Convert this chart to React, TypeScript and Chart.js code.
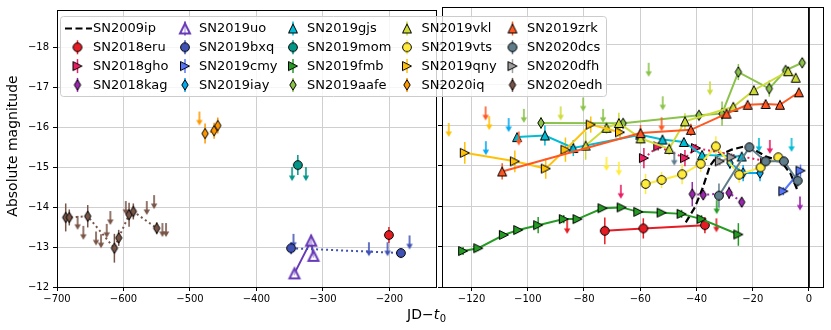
import React, { useEffect, useRef } from "react";
import { Chart, registerables } from "chart.js";
Chart.register(...registerables);

// ---------------- data ----------------
// detections: [JD - t0 (days), absolute magnitude, 1-sigma error]
// upper limits: [JD - t0 (days), limiting absolute magnitude]
const SN2009ip_x = [-43.8, -40.5, -37.8, -35.2, -32.5, -27.5, -23.0, -19.0, -15.0, -10.0, -6.5, -4.0];
const SN2009ip_y = [-13.6, -13.98, -14.45, -15.0, -15.25, -15.4, -15.48, -15.38, -15.22, -15.12, -14.8, -14.38];

const SN2018eru_det = [[-200.8, -13.3, 0.2], [-72.6, -13.39, 0.33], [-58.9, -13.45, 0.25], [-37.0, -13.53, 0.2]];
const SN2018eru_lim = [[-86.0, -13.66], [-32.9, -13.7]];
const SN2018gho_det = [[-58.7, -15.19, 0.25], [-53.6, -15.48, 0.1], [-44.1, -15.19, 0.2], [-40.2, -15.44, 0.1], [-15.6, -15.12, 0.1]];
const SN2018gho_lim = [[-66.9, -14.53], [-13.9, -15.64]];
const SN2018kag_det = [[-41.5, -14.3, 0.3], [-37.6, -14.28, 0.1], [-28.4, -14.33, 0.15], [-23.9, -14.1, 0.1]];
const SN2018kag_lim = [[-3.2, -14.24]];
const SN2019uo_det = [[-342.9, -12.34, 0.05], [-317.8, -13.16, 0.15], [-314.3, -12.78, 0.05]];
const SN2019uo_lim: number[][] = [];
const SN2019bxq_det = [[-347.9, -12.97, 0.15], [-182.8, -12.85, 0.12]];
const SN2019bxq_lim = [[-344.4, -13.33], [-230.9, -13.12], [-202.9, -13.12], [-169.8, -13.29]];
const SN2019cmy_det = [[-9.1, -14.37, 0.1], [-3.0, -14.88, 0.15]];
const SN2019cmy_lim: number[][] = [];
const SN2019iay_det = [[-28.1, -15.07, 0.15], [-23.4, -14.82, 0.2], [-17.4, -14.82, 0.2]];
const SN2019iay_lim = [[-114.9, -15.61], [-106.8, -16.18]];
const SN2019gjs_det = [[-103.8, -15.71, 0.1], [-93.9, -15.75, 0.25], [-83.8, -15.44, 0.2], [-60.0, -15.77, 0.1], [-52.1, -15.65, 0.1], [-44.5, -15.59, 0.1], [-38.0, -15.27, 0.1], [-23.9, -15.23, 0.1]];
const SN2019gjs_lim = [[-17.8, -15.69], [-6.2, -15.69]];
const SN2019mom_det = [[-337.8, -15.05, 0.25]];
const SN2019mom_lim = [[-346.4, -15.0], [-325.7, -15.0]];
const SN2019fmb_det = [[-123.0, -12.89, 0.1], [-117.6, -12.96, 0.05], [-108.5, -13.29, 0.05], [-103.4, -13.41, 0.05], [-96.3, -13.53, 0.2], [-87.2, -13.68, 0.1], [-82.3, -13.68, 0.05], [-73.4, -13.95, 0.05], [-66.6, -13.97, 0.05], [-60.7, -13.86, 0.05], [-52.4, -13.84, 0.05], [-45.3, -13.81, 0.1], [-38.2, -13.68, 0.1], [-25.1, -13.3, 0.28]];
const SN2019fmb_lim = [[-32.8, -14.15]];
const SN2019aafe_det = [[-95.3, -16.06, 0.15], [-66.1, -16.05, 0.1], [-39.1, -16.25, 0.1], [-30.9, -16.29, 0.3], [-25.1, -17.32, 0.2], [-14.1, -16.91, 0.2], [-8.3, -17.36, 0.1], [-2.4, -17.55, 0.1]];
const SN2019aafe_lim = [[-101.4, -16.41], [-80.3, -16.69], [-73.2, -16.41], [-57.0, -17.55], [-52.0, -16.72]];
const SN2019vkl_det = [[-79.4, -15.5, 0.35], [-72.0, -15.94, 0.15], [-67.6, -16.06, 0.25], [-59.9, -15.68, 0.15], [-49.7, -15.42, 0.15], [-44.1, -16.1, 0.2], [-26.9, -16.46, 0.1], [-19.6, -16.87, 0.1], [-7.4, -17.34, 0.1], [-4.7, -17.18, 0.1]];
const SN2019vkl_lim = [[-88.3, -16.47], [-35.2, -17.09]];
const SN2019vts_det = [[-58.1, -14.55, 0.25], [-52.4, -14.65, 0.2], [-45.1, -14.79, 0.25], [-38.5, -15.05, 0.2], [-33.1, -15.48, 0.25], [-24.8, -14.78, 0.2], [-17.2, -14.96, 0.15], [-10.9, -15.21, 0.1]];
const SN2019vts_lim = [[-72.0, -15.22], [-67.6, -15.1]];
const SN2019qny_det = [[-122.4, -15.32, 0.27], [-104.6, -15.11, 0.27], [-93.6, -14.93, 0.25], [-86.6, -15.4, 0.3], [-77.6, -16.02, 0.2], [-67.2, -15.83, 0.15]];
const SN2019qny_lim = [[-128.1, -16.06], [-113.7, -16.23]];
const SN2020iq_det = [[-477.3, -15.84, 0.25], [-463.7, -15.91, 0.2], [-458.2, -16.04, 0.2]];
const SN2020iq_lim = [[-485.8, -16.39]];
const SN2019zrk_det = [[-109.1, -14.86, 0.2], [-59.9, -15.81, 0.2], [-42.0, -15.89, 0.15], [-29.3, -16.29, 0.1], [-21.8, -16.51, 0.05], [-15.4, -16.53, 0.05], [-10.3, -16.51, 0.05], [-3.6, -16.82, 0.05]];
const SN2019zrk_lim = [[-115.0, -16.47], [-103.2, -15.85], [-52.4, -16.2]];
const SN2020dcs_det = [[-32.0, -14.26, 0.3], [-21.2, -15.46, 0.1], [-15.4, -15.11, 0.1], [-8.9, -15.11, 0.1], [-4.0, -14.63, 0.15]];
const SN2020dcs_lim = [[-47.9, -15.35]];
const SN2020dfh_det = [[-31.7, -15.11, 0.1], [-27.5, -15.21, 0.1]];
const SN2020dfh_lim: number[][] = [];
const SN2020edh_det = [[-686.9, -13.74, 0.35], [-681.5, -13.74, 0.2], [-653.8, -13.77, 0.28], [-613.7, -12.97, 0.36], [-607.2, -13.23, 0.2], [-591.6, -13.81, 0.3], [-585.2, -13.89, 0.2], [-550.0, -13.47, 0.15]];
const SN2020edh_lim = [[-669.0, -13.78], [-660.4, -13.53], [-641.3, -13.39], [-633.8, -13.32], [-625.2, -13.58], [-619.8, -13.9], [-596.6, -14.15], [-565.0, -14.15], [-554.0, -14.3], [-541.5, -13.6], [-536.0, -13.6]];

// axes
const X_TICKS_LEFT = [-700, -600, -500, -400, -300, -200];
const X_TICKS_RIGHT = [-120, -100, -80, -60, -40, -20, 0];
const Y_TICKS = [-18, -17, -16, -15, -14, -13, -12];
const X_RANGE_LEFT = [-700, -130];
const X_RANGE_RIGHT = [-130.5, 5];
const Y_RANGE = [-18.93, -12];
const PANEL_SPLIT = -130;
const Y_LABEL = "Absolute magnitude";

type Series = { name: string; color: string; marker: string; line: string; det: number[][]; lim: number[][] };
const SERIES: Series[] = [
  { name: "SN2018eru", color: "#e51c23", marker: "circle", line: "solid", det: SN2018eru_det, lim: SN2018eru_lim },
  { name: "SN2018gho", color: "#e91e63", marker: "triR", line: "dotted", det: SN2018gho_det, lim: SN2018gho_lim },
  { name: "SN2018kag", color: "#9c27b0", marker: "diamond", line: "dotted", det: SN2018kag_det, lim: SN2018kag_lim },
  { name: "SN2019uo", color: "#673ab7", marker: "triOpen", line: "solid", det: SN2019uo_det, lim: SN2019uo_lim },
  { name: "SN2019bxq", color: "#3f51b5", marker: "circle", line: "dotted", det: SN2019bxq_det, lim: SN2019bxq_lim },
  { name: "SN2019cmy", color: "#5677fc", marker: "triR", line: "solid", det: SN2019cmy_det, lim: SN2019cmy_lim },
  { name: "SN2019iay", color: "#03a9f4", marker: "diamond", line: "solid", det: SN2019iay_det, lim: SN2019iay_lim },
  { name: "SN2019gjs", color: "#00bcd4", marker: "tri", line: "solid", det: SN2019gjs_det, lim: SN2019gjs_lim },
  { name: "SN2019mom", color: "#009688", marker: "circle", line: "none", det: SN2019mom_det, lim: SN2019mom_lim },
  { name: "SN2019fmb", color: "#259b24", marker: "triR", line: "solid", det: SN2019fmb_det, lim: SN2019fmb_lim },
  { name: "SN2019aafe", color: "#8bc34a", marker: "diamond", line: "solid", det: SN2019aafe_det, lim: SN2019aafe_lim },
  { name: "SN2019vkl", color: "#cddc39", marker: "tri", line: "solid", det: SN2019vkl_det, lim: SN2019vkl_lim },
  { name: "SN2019vts", color: "#ffeb3b", marker: "circle", line: "solid", det: SN2019vts_det, lim: SN2019vts_lim },
  { name: "SN2019qny", color: "#ffc107", marker: "triR", line: "solid", det: SN2019qny_det, lim: SN2019qny_lim },
  { name: "SN2020iq", color: "#ff9800", marker: "diamond", line: "dotted", det: SN2020iq_det, lim: SN2020iq_lim },
  { name: "SN2019zrk", color: "#ff5722", marker: "tri", line: "solid", det: SN2019zrk_det, lim: SN2019zrk_lim },
  { name: "SN2020dcs", color: "#607d8b", marker: "circle", line: "solid", det: SN2020dcs_det, lim: SN2020dcs_lim },
  { name: "SN2020dfh", color: "#9e9e9e", marker: "triR", line: "solid", det: SN2020dfh_det, lim: SN2020dfh_lim },
  { name: "SN2020edh", color: "#795548", marker: "diamond", line: "dotted", det: SN2020edh_det, lim: SN2020edh_lim },
];

const FONT = '"DejaVu Sans", "Liberation Sans", sans-serif';
const GRID = "#cfcfcf";

function makeMarker(shape: string, color: string): HTMLCanvasElement {
  const c = document.createElement("canvas");
  c.width = 18;
  c.height = 18;
  const g = c.getContext("2d")!;
  const cx = 9, cy = 9;
  g.beginPath();
  if (shape === "circle") {
    g.arc(cx, cy, 4.4, 0, Math.PI * 2);
  } else if (shape === "tri" || shape === "triOpen") {
    const h = shape === "triOpen" ? 10 : 9;
    g.moveTo(cx, cy - h / 2);
    g.lineTo(cx + h / 2, cy + h / 2);
    g.lineTo(cx - h / 2, cy + h / 2);
  } else if (shape === "triR") {
    const h = 9;
    g.moveTo(cx + h / 2, cy);
    g.lineTo(cx - h / 2, cy - h / 2);
    g.lineTo(cx - h / 2, cy + h / 2);
  } else {
    g.moveTo(cx, cy - 5.2);
    g.lineTo(cx + 3.2, cy);
    g.lineTo(cx, cy + 5.2);
    g.lineTo(cx - 3.2, cy);
  }
  g.closePath();
  if (shape === "triOpen") {
    g.fillStyle = "rgba(255,255,255,0.6)";
    g.fill();
    g.lineWidth = 2;
    g.strokeStyle = color;
    g.stroke();
  } else {
    g.fillStyle = color;
    g.fill();
    g.lineWidth = 1;
    g.strokeStyle = "#000";
    g.stroke();
  }
  return c;
}

function makeArrow(color: string): HTMLCanvasElement {
  const L = 14;
  const c = document.createElement("canvas");
  c.width = 10;
  c.height = 2 * L + 4;
  const g = c.getContext("2d")!;
  const cx = 5, top = c.height / 2;
  g.strokeStyle = color;
  g.fillStyle = color;
  g.lineWidth = 1.6;
  g.beginPath();
  g.moveTo(cx, top);
  g.lineTo(cx, top + L - 4);
  g.stroke();
  g.beginPath();
  g.moveTo(cx - 3.2, top + L - 5.5);
  g.lineTo(cx + 3.2, top + L - 5.5);
  g.lineTo(cx, top + L);
  g.closePath();
  g.fill();
  return c;
}

const fmtTick = (v: any) => (Number(v) < 0 ? "\u2212" + Math.abs(Number(v)) : String(v));

const errorBarPlugin = {
  id: "errbars",
  beforeDatasetsDraw(chart: any) {
    const { ctx, chartArea: a, scales } = chart;
    const xs = scales.x, ys = scales.y;
    ctx.save();
    ctx.beginPath();
    ctx.rect(a.left, a.top, a.right - a.left, a.bottom - a.top);
    ctx.clip();
    chart.data.datasets.forEach((ds: any) => {
      if (!ds.errs) return;
      ctx.strokeStyle = ds.errColor;
      ctx.lineWidth = 1.5;
      ds.data.forEach((p: any, i: number) => {
        const e = ds.errs[i];
        if (!e) return;
        const px = xs.getPixelForValue(p.x);
        ctx.beginPath();
        ctx.moveTo(px, ys.getPixelForValue(p.y - e));
        ctx.lineTo(px, ys.getPixelForValue(p.y + e));
        ctx.stroke();
      });
    });
    ctx.restore();
  },
};

const framePlugin = {
  id: "frame",
  afterDraw(chart: any) {
    const { ctx, chartArea: a } = chart;
    ctx.save();
    ctx.strokeStyle = "#000";
    ctx.lineWidth = 1;
    ctx.strokeRect(Math.round(a.left) + 0.5, Math.round(a.top) + 0.5, Math.round(a.right - a.left), Math.round(a.bottom - a.top));
    ctx.restore();
  },
};

function makeTextPlugin(markers: HTMLCanvasElement[]) {
  return {
    id: "texts",
    afterDraw(chart: any) {
      const ctx = chart.ctx;
      ctx.save();
      ctx.fillStyle = "#000";
      // y label
      ctx.save();
      ctx.font = `14px ${FONT}`;
      ctx.translate(13.5, 146);
      ctx.rotate(-Math.PI / 2);
      ctx.textAlign = "center";
      ctx.textBaseline = "middle";
      ctx.fillText(Y_LABEL, 0, 0);
      ctx.restore();
      // x label: JD−t_0
      ctx.textBaseline = "alphabetic";
      ctx.textAlign = "left";
      ctx.font = `14px ${FONT}`;
      const p1 = "JD\u2212";
      const w1 = ctx.measureText(p1).width;
      ctx.font = `italic 14px ${FONT}`;
      const w2 = ctx.measureText("t").width;
      ctx.font = `10px ${FONT}`;
      const w3 = ctx.measureText("0").width;
      let x0 = 426.5 - (w1 + w2 + w3 + 0.5) / 2;
      const base = 318.5;
      ctx.font = `14px ${FONT}`;
      ctx.fillText(p1, x0, base);
      ctx.font = `italic 14px ${FONT}`;
      ctx.fillText("t", x0 + w1, base);
      ctx.font = `10px ${FONT}`;
      ctx.fillText("0", x0 + w1 + w2 + 0.5, base + 3);

      // legend
      const bx = 60.5, by = 16.5, bw = 546, bh = 80;
      ctx.beginPath();
      (ctx as any).roundRect ? (ctx as any).roundRect(bx, by, bw, bh, 3) : ctx.rect(bx, by, bw, bh);
      ctx.fillStyle = "rgba(255,255,255,0.8)";
      ctx.fill();
      ctx.strokeStyle = "#cccccc";
      ctx.lineWidth = 1;
      ctx.stroke();
      const textX = [93, 199, 307, 421.5, 527];
      const markX = [77.5, 185, 293, 407, 512.5];
      const rowY = [28.5, 47.3, 66.1, 84.9];
      const entries = ["SN2009ip", ...SERIES.map((s) => s.name)];
      ctx.font = `13px ${FONT}`;
      ctx.textBaseline = "middle";
      entries.forEach((name, i) => {
        const col = Math.floor(i / 4), row = i % 4;
        const y = rowY[row];
        if (i === 0) {
          ctx.save();
          ctx.strokeStyle = "#000";
          ctx.lineWidth = 2.2;
          ctx.setLineDash([7, 3.5]);
          ctx.beginPath();
          ctx.moveTo(65, y);
          ctx.lineTo(92, y);
          ctx.stroke();
          ctx.restore();
        } else {
          const s = SERIES[i - 1];
          const mx = markX[col];
          ctx.strokeStyle = s.color;
          ctx.lineWidth = 1.5;
          ctx.beginPath();
          ctx.moveTo(mx, y - 7);
          ctx.lineTo(mx, y + 7);
          ctx.stroke();
          const m = markers[i - 1];
          ctx.drawImage(m, mx - m.width / 2, y - m.height / 2);
        }
        ctx.fillStyle = "#000";
        ctx.fillText(name, textX[col], y + 0.5);
      });
      ctx.restore();
    },
  };
}

function buildDatasets(panel: "left" | "right", markers: HTMLCanvasElement[], arrows: HTMLCanvasElement[]) {
  const inPanel = (x: number) => (panel === "left" ? x < PANEL_SPLIT : x >= PANEL_SPLIT - 1);
  const ds: any[] = [];
  const ip = SN2009ip_x.map((x, i) => ({ x, y: SN2009ip_y[i] })).filter((p) => inPanel(p.x));
  if (ip.length) {
    ds.push({ data: ip, showLine: true, borderColor: "#000", borderWidth: 2.2, borderDash: [7, 3.5], pointRadius: 0, order: 200 });
  }
  SERIES.forEach((s, k) => {
    const det = s.det.filter((d) => inPanel(d[0]));
    if (det.length) {
      ds.push({
        data: det.map((d) => ({ x: d[0], y: d[1] })),
        errs: det.map((d) => d[2]),
        errColor: s.color,
        showLine: s.line !== "none" && det.length > 1,
        borderColor: s.color,
        backgroundColor: s.color,
        borderWidth: 2,
        borderDash: s.line === "dotted" ? [2, 3] : [],
        pointStyle: markers[k],
        pointRadius: 5,
        order: 100 - 2 * k,
      });
    }
    const lim = s.lim.filter((d) => inPanel(d[0]));
    if (lim.length) {
      ds.push({
        data: lim.map((d) => ({ x: d[0], y: d[1] })),
        showLine: false,
        borderColor: s.color,
        backgroundColor: s.color,
        pointStyle: arrows[k],
        pointRadius: 5,
        order: 101 - 2 * k,
      });
    }
  });
  if (panel === "right") {
    ds.push({ data: [{ x: 0, y: -19.5 }, { x: 0, y: -11.5 }], showLine: true, borderColor: "#000", borderWidth: 1.8, pointRadius: 0, order: -1000 });
  }
  return ds;
}

function makeConfig(panel: "left" | "right", markers: HTMLCanvasElement[], arrows: HTMLCanvasElement[]): any {
  const left = panel === "left";
  const xr = left ? X_RANGE_LEFT : X_RANGE_RIGHT;
  const xt = left ? X_TICKS_LEFT : X_TICKS_RIGHT;
  return {
    type: "scatter",
    data: { datasets: buildDatasets(panel, markers, arrows) },
    options: {
      animation: false,
      responsive: false,
      maintainAspectRatio: false,
      events: [],
      layout: { padding: { left: 0, right: left ? 395 : 8, top: 7, bottom: 0 } },
      plugins: { legend: { display: false }, tooltip: { enabled: false } },
      scales: {
        x: {
          type: "linear",
          min: xr[0],
          max: xr[1],
          afterBuildTicks: (s: any) => {
            s.ticks = xt.map((v) => ({ value: v }));
          },
          afterFit: (s: any) => {
            s.height = 43;
          },
          grid: { color: GRID, lineWidth: 1, tickColor: "#000", tickLength: 4 },
          border: { display: false },
          ticks: { color: "#000", font: { family: FONT, size: 10 }, padding: 2, maxRotation: 0, autoSkip: false, callback: fmtTick },
        },
        y: {
          type: "linear",
          reverse: true,
          min: Y_RANGE[0],
          max: Y_RANGE[1],
          afterBuildTicks: (s: any) => {
            s.ticks = Y_TICKS.map((v) => ({ value: v }));
          },
          afterFit: (s: any) => {
            s.width = left ? 57 : 442;
          },
          grid: { color: GRID, lineWidth: 1, tickColor: "#000", tickLength: 4 },
          border: { display: false },
          ticks: { display: left, color: "#000", font: { family: FONT, size: 10 }, padding: 4, autoSkip: false, callback: fmtTick },
        },
      },
    },
    plugins: left ? [errorBarPlugin, framePlugin] : [errorBarPlugin, framePlugin, makeTextPlugin(markers)],
  };
}

export default function App() {
  const leftRef = useRef<HTMLCanvasElement>(null);
  const rightRef = useRef<HTMLCanvasElement>(null);
  useEffect(() => {
    const markers = SERIES.map((s) => makeMarker(s.marker, s.color));
    const arrows = SERIES.map((s) => makeArrow(s.color));
    const c1 = new Chart(leftRef.current!, makeConfig("left", markers, arrows));
    const c2 = new Chart(rightRef.current!, makeConfig("right", markers, arrows));
    return () => {
      c1.destroy();
      c2.destroy();
    };
  }, []);
  const st: React.CSSProperties = { position: "absolute", left: 0, top: 0, width: 831, height: 330 };
  return (
    <div style={{ position: "fixed", left: 0, top: 0, width: 831, height: 330, background: "#fff" }}>
      <canvas ref={leftRef} width={831} height={330} style={st} />
      <canvas ref={rightRef} width={831} height={330} style={st} />
    </div>
  );
}
